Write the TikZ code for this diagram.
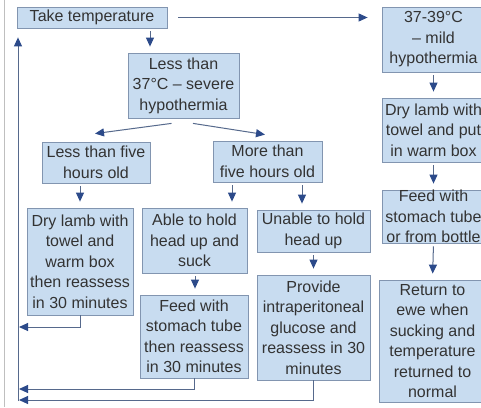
\documentclass[tikz,border=0pt]{standalone}
\usepackage{fontspec}
\setmainfont{Liberation Sans}
\usetikzlibrary{arrows.meta,calc}
\definecolor{boxfill}{HTML}{C8DCF0}
\definecolor{boxdraw}{HTML}{8295B0}
\definecolor{linec}{HTML}{56698C}
\definecolor{tipc}{HTML}{2C4A8A}
\definecolor{txt}{HTML}{333333}
\begin{document}
\begin{tikzpicture}[x=1pt,y=-1pt,
  box/.style={draw=boxdraw, fill=boxfill, line width=0.8pt, text=txt, align=center,
    inner sep=0pt, font=\fontsize{16}{20.5}\selectfont},
  arr/.style={draw=linec, line width=1pt, -{Triangle[length=9pt,width=8pt,color=tipc,fill=tipc]}},
  gap/.style={shorten <=3pt, shorten >=6pt}]
\useasboundingbox (0,0) rectangle (481,407);
\fill[white] (0,0) rectangle (481,407);
\draw[black!25, line width=1pt] (4,0) -- (4,407);

\node[box, minimum width=150pt, minimum height=21pt] (temp) at (92,17.5) {Take temperature};
\node[box, minimum width=103pt, minimum height=65pt] (mild) at (433.5,39.5) {37-39°C\\– mild\\hypothermia};
\node[box, minimum width=103pt, minimum height=64pt] (dry2) at (433.5,130) {Dry lamb with\\towel and put\\in warm box};
\node[box, minimum width=103pt, minimum height=53pt] (feed2) at (433.5,216.5) {Feed with\\stomach tube\\or from bottle};
\node[box, minimum width=107pt, minimum height=122pt] (ret) at (432.5,341) {Return to\\ewe when\\sucking and\\temperature\\returned to\\normal};
\node[box, minimum width=111pt, minimum height=65pt] (severe) at (183.5,85.5) {Less than\\37°C – severe\\hypothermia};
\node[box, minimum width=108pt, minimum height=41pt] (less5) at (96,162.5) {Less than five\\hours old};
\node[box, minimum width=109pt, minimum height=41pt] (more5) at (267.5,161.5) {More than\\five hours old};
\node[box, minimum width=106pt, minimum height=107pt] (drylamb) at (80,261.5) {Dry lamb with\\towel and\\warm box\\then reassess\\in 30 minutes};
\node[box, minimum width=105pt, minimum height=65pt] (able) at (194.5,240.5) {Able to hold\\head up and\\suck};
\node[box, minimum width=113pt, minimum height=42pt] (unable) at (313.5,231) {Unable to hold\\head up};
\node[box, minimum width=108pt, minimum height=83pt] (feed) at (194,336.5) {Feed with\\stomach tube\\then reassess\\in 30 minutes};
\node[box, minimum width=113pt, minimum height=105pt] (provide) at (313.5,327.5) {Provide\\intraperitoneal\\glucose and\\reassess in 30\\minutes};

% forward arrows
\draw[arr, shorten <=11pt, shorten >=14pt] (temp.east) -- (temp.east -| mild.west);
\draw[arr, gap] (150,0 |- temp.south) -- (150,0 |- severe.north);
\draw[arr, gap] (mild.south) -- (dry2.north);
\draw[arr, gap] (dry2.south) -- (feed2.north);
\draw[arr, gap] (feed2.south) -- (ret.north);
\draw[arr] ($(severe.south)+(-12,5)$) -- ($(less5.north)+(-1,-8)$);
\draw[arr] ($(severe.south)+(9.5,5)$) -- ($(more5.north)+(-2.5,-6)$);
\draw[arr, gap] (80,0 |- less5.south) -- (80,0 |- drylamb.north);
\draw[arr, gap] (232,0 |- more5.south) -- (232,0 |- able.north);
\draw[arr, gap] (302,0 |- more5.south) -- (302,0 |- unable.north);
\draw[arr, gap] (195,0 |- able.south) -- (195,0 |- feed.north);
\draw[arr, gap] (313.5,0 |- unable.south) -- (313.5,0 |- provide.north);

% return loops
\coordinate (r1) at (19,327);
\coordinate (r2) at (19,389);
\coordinate (r3) at (19,400);
\coordinate (rail) at (18,401);
\draw[arr] (drylamb.south) |- (r1);
\draw[arr] (feed.south) |- (r2);
\draw[arr] (provide.south) |- (r3);
\draw[arr, shorten >=9pt] (rail) -- (18,0 |- temp.south);
\end{tikzpicture}
\end{document}
